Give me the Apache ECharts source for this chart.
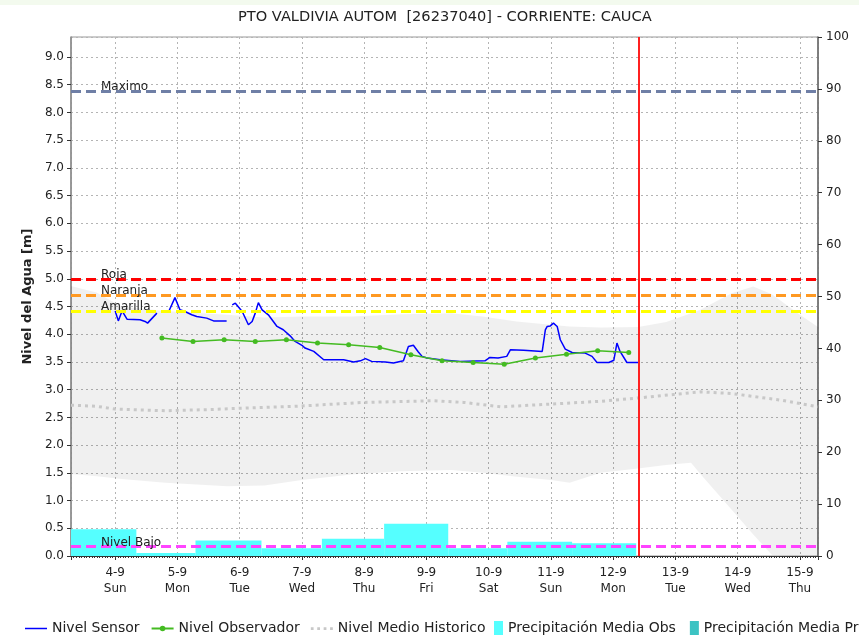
<!DOCTYPE html>
<html><head><meta charset="utf-8">
<script src="https://cdn.jsdelivr.net/npm/echarts@6.0.0/dist/echarts.min.js"></script>
<style>html,body{margin:0;padding:0;background:#fff}#c{width:859px;height:636px}</style>
</head><body><div id="c"></div>
<script>
// ---- data (x = days after 4-9 00:00) ----
const dayLabels = ['4-9\nSun','5-9\nMon','6-9\nTue','7-9\nWed','8-9\nThu','9-9\nFri','10-9\nSat','11-9\nSun','12-9\nMon','13-9\nTue','14-9\nWed','15-9\nThu'];
const xStart = -0.71, xEnd = 11.29;
const nowDay = 8.41;

const sensorDays = [0.00,0.05,0.11,0.19,0.40,0.48,0.52,0.67,0.76,0.86,0.96,1.04,1.12,1.23,1.31,1.47,1.58,1.79,1.83,1.88,1.93,2.04,2.14,2.20,2.25,2.30,2.36,2.46,2.60,2.70,2.81,2.89,3.00,3.05,3.19,3.35,3.67,3.83,3.94,4.02,4.12,4.34,4.47,4.63,4.71,4.79,4.87,4.93,5.01,5.22,5.54,5.94,6.02,6.15,6.29,6.35,6.56,6.86,6.91,6.94,6.99,7.04,7.10,7.15,7.23,7.34,7.55,7.66,7.74,7.93,8.01,8.06,8.11,8.22,8.40];
const sensorLevels = [4.42,4.24,4.42,4.27,4.26,4.23,4.20,4.38,null,4.41,4.66,4.44,4.41,4.35,4.32,4.29,4.24,4.24,null,4.53,4.56,4.41,4.17,4.23,4.38,4.57,4.44,4.35,4.14,4.08,3.97,3.87,3.80,3.75,3.69,3.54,3.54,3.50,3.52,3.56,3.51,3.50,3.48,3.52,3.78,3.80,3.68,3.60,3.57,3.54,3.51,3.52,3.58,3.57,3.60,3.72,3.71,3.69,4.08,4.14,4.15,4.20,4.14,3.90,3.73,3.67,3.66,3.60,3.49,3.49,3.53,3.84,3.69,3.49,3.49];

const obsDays = [0.75,1.25,1.75,2.25,2.75,3.25,3.75,4.25,4.75,5.25,5.75,6.25,6.75,7.25,7.75,8.25];
const obsLevels = [3.93,3.87,3.90,3.87,3.90,3.84,3.81,3.76,3.63,3.52,3.49,3.46,3.57,3.64,3.70,3.67];

const histDays = [-0.71,-0.30,0.00,0.80,1.50,1.90,2.90,4.00,5.10,5.60,6.20,7.00,7.80,8.40,9.40,9.90,10.70,11.29];
const histLevels = [2.72,2.70,2.65,2.62,2.64,2.66,2.70,2.77,2.80,2.77,2.69,2.74,2.79,2.85,2.96,2.93,2.81,2.69];

const bandDays = [-0.71,-0.30,0.10,0.80,1.80,2.40,3.00,3.80,4.60,5.40,5.90,6.45,7.00,7.30,7.80,8.40,8.85,9.25,9.40,9.90,10.25,10.55,11.00,11.29];
const bandLow  = [1.48,1.44,1.39,1.32,1.26,1.27,1.37,1.47,1.53,1.55,1.50,1.43,1.37,1.32,1.50,1.58,1.64,1.68,1.48,0.84,0.39,0.02,0.00,0.00];
const bandHigh = [4.87,4.75,4.50,4.42,4.35,4.30,4.32,4.32,4.36,4.38,4.32,4.23,4.17,4.14,4.12,4.13,4.22,4.38,4.44,4.74,4.86,4.72,4.35,4.13];

const precipEdges = [-0.71,0.34,1.29,2.35,3.32,4.32,5.35,6.30,7.34,8.37];
const precipObs = [5.15,0.6,3.0,1.5,3.3,6.2,1.5,2.75,2.45];

const thresholdNames = ['Maximo','Roja','Naranja','Amarilla','Nivel Bajo'];
const thresholdValues = [8.38,5.00,4.71,4.42,0.17];

// ---- styles ----
const FONT = 'DejaVu Sans';
const thresholdColors = ['#6F7FA6','#FF0000','#FF9922','#FFFF00','#FF44FF'];
const gridStyle = {type:[2,3], color:'#b4b4b4', width:1};
const iconLine = 'path://M0,0h22v1.5h-22z';
const iconDots = 'path://M0,0h3v3h-3zM7,0h3v3h-3zM14,0h3v3h-3zM21,0h3v3h-3z';

const chart = echarts.init(document.getElementById('c'));
const option = {
  animation:false,
  backgroundColor:'#ffffff',
  graphic:[{type:'rect', shape:{x:0,y:0,width:859,height:5}, style:{fill:'#F3FAEE'}, z:-10}],
  title:{text:'PTO VALDIVIA AUTOM  [26237040] - CORRIENTE: CAUCA', left:233, top:5,
    textStyle:{fontFamily:FONT, fontSize:14.6, fontWeight:'normal', color:'#222'}},
  grid:{left:71, right:41, top:37, bottom:80, show:true, borderColor:'#999', borderWidth:1},
  legend:[
    {left:25, top:621.5, padding:0, itemWidth:22, itemHeight:7, itemGap:11,
     textStyle:{fontFamily:FONT, fontSize:14, color:'#222'},
     data:[{name:'Nivel Sensor', icon:iconLine},'Nivel Observador',{name:'Nivel Medio Historico', icon:iconDots}]},
    {left:494, top:621, width:700, padding:0, itemWidth:9, itemHeight:14, itemGap:14, icon:'rect',
     textStyle:{fontFamily:FONT, fontSize:14, color:'#222'},
     data:['Precipitación Media Obs','Precipitación Media Pronosticada']}
  ],
  xAxis:{type:'value', min:xStart, max:xEnd, splitNumber:12, minInterval:1, maxInterval:1,
    axisLine:{show:true, onZero:false, lineStyle:{color:'#333'}},
    axisTick:{show:true, length:4, lineStyle:{color:'#333'}},
    minorTick:{show:true, splitNumber:24, length:2, lineStyle:{color:'#333'}},
    axisLabel:{showMinLabel:false, showMaxLabel:false, margin:9, lineHeight:16, color:'#222', fontFamily:FONT, fontSize:12,
      formatter:function(v){const i=Math.round(v); return (Math.abs(v-i)<1e-6 && i>=0 && i<dayLabels.length)?dayLabels[i]:'';}},
    splitLine:{show:true, lineStyle:gridStyle}},
  yAxis:[
    {type:'value', position:'left', min:0, max:9.36, interval:0.5,
     name:'Nivel del Agua [m]', nameLocation:'middle', nameGap:34,
     nameTextStyle:{fontFamily:FONT, fontSize:13, fontWeight:'bold', color:'#222'},
     axisLine:{show:true, onZero:false, lineStyle:{color:'#888', width:1.5}},
     axisTick:{show:true, length:4, lineStyle:{color:'#333'}},
     axisLabel:{showMaxLabel:false, margin:7, color:'#222', fontFamily:FONT, fontSize:12, formatter:v=>v.toFixed(1)},
     splitLine:{show:true, lineStyle:gridStyle}},
    {type:'value', position:'right', min:0, max:100, interval:10,
     axisLine:{show:true, onZero:false, lineStyle:{color:'#666', width:1.5}},
     axisTick:{show:true, length:4, lineStyle:{color:'#333'}},
     axisLabel:{margin:8, color:'#222', fontFamily:FONT, fontSize:12},
     splitLine:{show:false}}
  ],
  series:[
    {type:'custom', name:'band', z:1, silent:true, xAxisIndex:0, yAxisIndex:0, data:[[0,0]],
     renderItem:function(params, api){
       const pts=[];
       for(let i=0;i<bandDays.length;i++) pts.push(api.coord([bandDays[i], bandHigh[i]]));
       for(let i=bandDays.length-1;i>=0;i--) pts.push(api.coord([bandDays[i], bandLow[i]]));
       return {type:'polygon', shape:{points:pts}, style:{fill:'rgba(0,0,0,0.06)'}};
     }},
    {type:'custom', name:'Precipitación Media Obs', z:2, silent:true, xAxisIndex:0, yAxisIndex:1,
     itemStyle:{color:'#55FFFF'},
     encode:{x:[0,1], y:2},
     data:precipObs.map((v,i)=>[precipEdges[i], precipEdges[i+1], v]),
     renderItem:function(params, api){
       const p0=api.coord([api.value(0), api.value(2)]);
       const p1=api.coord([api.value(1), 0]);
       return {type:'rect', shape:{x:p0[0], y:p0[1], width:p1[0]-p0[0], height:p1[1]-p0[1]}, style:{fill:'#55FFFF'}};
     }},
    {type:'custom', name:'Precipitación Media Pronosticada', z:2, silent:true, xAxisIndex:0, yAxisIndex:1,
     itemStyle:{color:'#3CC3C3'}, data:[], renderItem:function(){return null;}},
    {type:'line', name:'Nivel Medio Historico', z:3, symbol:'none', silent:true,
     data:histDays.map((d,i)=>[d, histLevels[i]]),
     itemStyle:{color:'#c8c8c8'},
     lineStyle:{color:'#c8c8c8', width:3, type:[3,4]},
     markLine:{symbol:'none', silent:true, animation:false,
       data:thresholdNames.map((n,i)=>({name:n, yAxis:thresholdValues[i], lineStyle:{color:thresholdColors[i]}})),
       lineStyle:{type:[10,5], width:3},
       label:{show:true, position:'insideStartTop', distance:[30,-2], formatter:'{b}', color:'#222', fontFamily:FONT, fontSize:12}}},
    {type:'line', name:'Nivel Sensor', z:4, symbol:'none', connectNulls:false,
     data:sensorDays.map((d,i)=>[d, sensorLevels[i]===null?'-':sensorLevels[i]]),
     itemStyle:{color:'#0000FF'}, lineStyle:{color:'#0000FF', width:1.5}},
    {type:'line', name:'Nivel Observador', z:5, symbol:'circle', symbolSize:5,
     data:obsDays.map((d,i)=>[d, obsLevels[i]]),
     itemStyle:{color:'#44BB22'}, lineStyle:{color:'#44BB22', width:1.5},
     markLine:{symbol:'none', silent:true, animation:false, label:{show:false},
       data:[{xAxis:nowDay}], lineStyle:{type:'solid', color:'#FF2020', width:2}}}
  ]
};
chart.setOption(option);
</script>
</body></html>
